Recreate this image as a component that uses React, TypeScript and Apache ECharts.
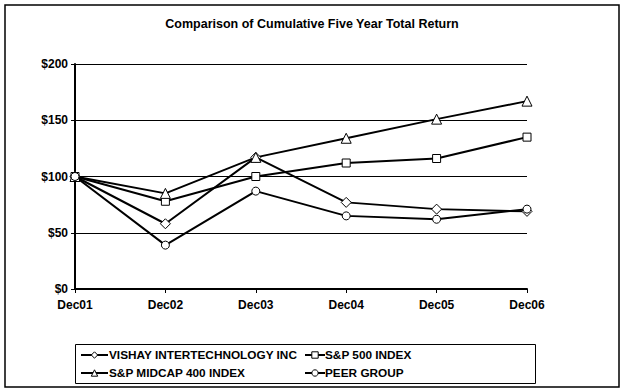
import React, { useEffect, useRef } from "react";
import * as echarts from "echarts";

const categories = ["Dec01", "Dec02", "Dec03", "Dec04", "Dec05", "Dec06"];
const vishay = [100, 58, 117, 77, 71, 69];
const sp500 = [100, 78, 100, 112, 116, 135];
const midcap = [100, 85, 117, 134, 151, 167];
const peer = [100, 39, 87, 65, 62, 71];
const yTicks = { min: 0, max: 200, interval: 50 };

const FONT = "'Liberation Sans', Arial, sans-serif";

export default function App() {
  const ref = useRef<HTMLDivElement>(null);
  useEffect(() => {
    if (!ref.current) return;
    const chart = echarts.init(ref.current, null, { renderer: "svg" });
    const mk = (name: string, data: number[], symbol: string, size: number) => ({
      name,
      type: "line",
      data,
      symbol,
      symbolSize: size,
      showAllSymbol: true,
      lineStyle: { color: "#000", width: 2 },
      itemStyle: { color: "#fff", borderColor: "#000", borderWidth: 1 },
      emphasis: { disabled: true },
    });
    const legendBase = {
      orient: "vertical",
      top: 349,
      itemHeight: 8,
      itemGap: 6,
      padding: 0,
      selectedMode: false,
      itemStyle: { color: "#fff", borderColor: "#000", borderWidth: 1 },
      lineStyle: { color: "#000", width: 2 },
    };
    chart.setOption({
      animation: false,
      backgroundColor: "#fff",
      title: {
        text: "Comparison of Cumulative Five Year Total Return",
        left: "center",
        top: 12,
        textStyle: { color: "#000", fontWeight: "bold", fontSize: 12.5, fontFamily: FONT },
      },
      grid: { left: 75, right: 97, top: 64, bottom: 102 },
      legend: [
        {
          ...legendBase,
          data: ["VISHAY INTERTECHNOLOGY INC", "S&P MIDCAP 400 INDEX"],
          left: 80,
          itemWidth: 27,
          textStyle: { color: "#000", fontWeight: "bold", fontSize: 11.8, fontFamily: FONT, padding: [0, 0, 0, -4] },
        },
        {
          ...legendBase,
          data: ["S&P 500 INDEX", "PEER GROUP"],
          left: 304,
          itemWidth: 20,
          textStyle: { color: "#000", fontWeight: "bold", fontSize: 11.8, fontFamily: FONT, padding: [0, 0, 0, -5] },
        },
      ],
      xAxis: {
        type: "category",
        data: categories,
        boundaryGap: false,
        axisLine: { lineStyle: { color: "#000", width: 2 } },
        axisTick: { show: true, length: 4, lineStyle: { color: "#000", width: 1 } },
        axisLabel: { color: "#000", fontWeight: "bold", fontSize: 12, fontFamily: FONT, margin: 10 },
      },
      yAxis: {
        type: "value",
        min: yTicks.min,
        max: yTicks.max,
        interval: yTicks.interval,
        axisLine: { show: true, lineStyle: { color: "#000", width: 2 } },
        axisTick: { show: true, length: 4, lineStyle: { color: "#000", width: 1 } },
        axisLabel: {
          color: "#000",
          fontWeight: "bold",
          fontSize: 12,
          fontFamily: FONT,
          margin: 7,
          formatter: (v: number) => "$" + v,
        },
        splitLine: { lineStyle: { color: "#000", width: 1 } },
      },
      graphic: [
        {
          type: "rect",
          shape: { x: 5, y: 5, width: 614, height: 382 },
          style: { fill: "none", stroke: "#000", lineWidth: 1.5 },
          silent: true,
        },
        {
          type: "rect",
          shape: { x: 75.5, y: 344.5, width: 460, height: 39 },
          style: { fill: "none", stroke: "#000", lineWidth: 1 },
          silent: true,
        },
      ],
      series: [
        mk("VISHAY INTERTECHNOLOGY INC", vishay, "diamond", 10),
        mk("S&P 500 INDEX", sp500, "rect", 8),
        mk("S&P MIDCAP 400 INDEX", midcap, "triangle", 10),
        mk("PEER GROUP", peer, "circle", 8),
      ],
    });
    return () => chart.dispose();
  }, []);
  return (
    <div
      ref={ref}
      style={{ position: "fixed", left: 0, top: 0, width: 624, height: 391, background: "#fff" }}
    />
  );
}
